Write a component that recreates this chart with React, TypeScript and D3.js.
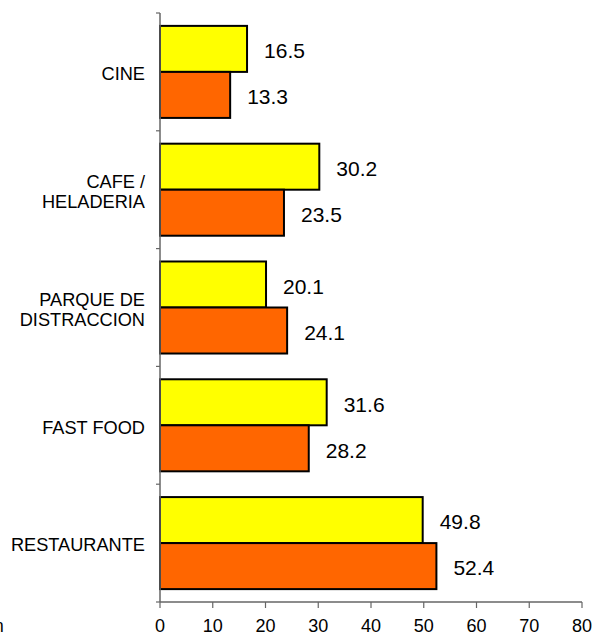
import { useEffect, useRef } from 'react';
import * as d3 from 'd3';

const categories = ['CINE', 'CAFE /\nHELADERIA', 'PARQUE DE\nDISTRACCION', 'FAST FOOD', 'RESTAURANTE'];
const yellowValues = [16.5, 30.2, 20.1, 31.6, 49.8];
const orangeValues = [13.3, 23.5, 24.1, 28.2, 52.4];
const xTicks = [0, 10, 20, 30, 40, 50, 60, 70, 80];

export default function App() {
	const svgRef = useRef<SVGSVGElement | null>(null);

	useEffect(() => {
		if (!svgRef.current) return;
		const width = 595;
		const height = 636;
		const margin = { top: 13, right: 13, bottom: 34, left: 160 };

		const svg = d3.select(svgRef.current).attr('width', width).attr('height', height);
		svg.selectAll('*').remove();

		const font = 'Liberation Sans, Arial, sans-serif';

		// X scale
		const x = d3.scaleLinear().domain([0, 80]).range([margin.left, width - margin.right]);

		// Y band per category
		const y = d3
			.scaleBand<string>()
			.domain(categories)
			.range([margin.top, height - margin.bottom]);

		const inner = d3
			.scaleBand<string>()
			.domain(['yellow', 'orange'])
			.range([0, y.bandwidth()])
			.paddingOuter(0.28)
			.paddingInner(0);

		const series = [
			{ key: 'yellow', values: yellowValues, fill: '#ffff00' },
			{ key: 'orange', values: orangeValues, fill: '#ff6600' },
		];

		series.forEach((s) => {
			const g = svg.append('g');
			g.selectAll('rect')
				.data(categories)
				.join('rect')
				.attr('x', x(0))
				.attr('y', (d) => y(d)! + inner(s.key)!)
				.attr('width', (_, i) => x(s.values[i]) - x(0))
				.attr('height', inner.bandwidth())
				.attr('fill', s.fill)
				.attr('stroke', '#000')
				.attr('stroke-width', 2);

			g.selectAll('text')
				.data(categories)
				.join('text')
				.attr('x', (_, i) => x(s.values[i]) + 17)
				.attr('y', (d) => y(d)! + inner(s.key)! + inner.bandwidth() / 2 + 2)
				.attr('dy', '0.35em')
				.style('font-family', font)
				.style('font-size', '21px')
				.attr('fill', '#000')
				.text((_, i) => s.values[i].toFixed(1));
		});

		// Y axis
		const yAxis = svg.append('g').attr('transform', `translate(${margin.left},0)`);
		yAxis.append('line')
			.attr('y1', margin.top)
			.attr('y2', height - margin.bottom)
			.attr('stroke', '#666')
			.attr('stroke-width', 1.5);
		const bounds = categories.map((c) => y(c)!).concat([height - margin.bottom]);
		yAxis.selectAll('.tick')
			.data(bounds)
			.join('line')
			.attr('x1', -4)
			.attr('x2', 0)
			.attr('y1', (d) => d)
			.attr('y2', (d) => d)
			.attr('stroke', '#666')
			.attr('stroke-width', 1.2);

		// category labels
		svg.append('g')
			.selectAll('text')
			.data(categories)
			.join('text')
			.attr('text-anchor', 'end')
			.style('font-family', font)
			.style('font-size', '18.2px')
			.attr('fill', '#000')
			.each(function (d) {
				const lines = d.split('\n');
				const cy = y(d)! + y.bandwidth() / 2 + 2;
				const t = d3.select(this);
				lines.forEach((line, i) => {
					t.append('tspan')
						.attr('x', margin.left - 15)
						.attr('y', cy + (i - (lines.length - 1) / 2) * 20)
						.attr('dy', '0.35em')
						.text(line);
				});
			});

		// X axis
		const xAxis = svg.append('g').attr('transform', `translate(0,${height - margin.bottom})`);
		xAxis.append('line')
			.attr('x1', x(0))
			.attr('x2', x(80))
			.attr('stroke', '#666')
			.attr('stroke-width', 1.5);
		xAxis.selectAll('line.tick')
			.data(xTicks)
			.join('line')
			.attr('class', 'tick')
			.attr('x1', (d) => x(d))
			.attr('x2', (d) => x(d))
			.attr('y1', 0)
			.attr('y2', 6)
			.attr('stroke', '#666')
			.attr('stroke-width', 1.2);
		xAxis.selectAll('text')
			.data(xTicks)
			.join('text')
			.attr('x', (d) => x(d))
			.attr('y', 30)
			.attr('text-anchor', 'middle')
			.style('font-family', font)
			.style('font-size', '18px')
			.attr('fill', '#000')
			.text((d) => String(d));

		// clipped note at bottom-left
		svg.append('text')
			.attr('x', -6)
			.attr('y', 632)
			.style('font-family', font)
			.style('font-size', '17.5px')
			.attr('fill', '#000')
			.text('n');
	}, []);

	return (
		<div style={{ position: 'absolute', left: 0, top: 0 }}>
			<svg ref={svgRef} style={{ display: 'block' }} />
		</div>
	);
}
